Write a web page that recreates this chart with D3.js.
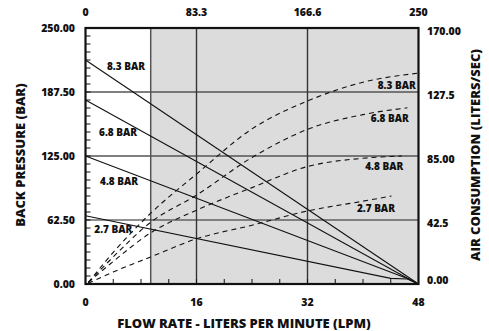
<!DOCTYPE html>
<html><head><meta charset="utf-8">
<script src="https://cdn.jsdelivr.net/npm/d3@7"></script>
<style>
html,body{margin:0;padding:0;background:#fff;}
svg{display:block;}
text{font-family:"Open Sans","Noto Sans",sans-serif;font-weight:800;fill:#111;}
</style></head>
<body><svg id="c" width="489" height="331"></svg>
<script>
// ---- data ----
const flowTicks = [0, 16, 32, 48];                 // LPM (bottom axis)
const topTickLabels = ["0", "83.3", "166.6", "250"]; // top axis labels
const pressureTicks = [0, 62.5, 125, 187.5, 250];   // left axis
const pressureTickLabels = ["0.00", "62.50", "125.00", "187.50", "250.00"];
const consumptionTicks = [0, 42.5, 85, 127.5, 170]; // right axis
const consumptionTickLabels = ["0.00", "42.5", "85.00", "127.5", "170.00"];
const seriesNames = ["8.3 BAR", "6.8 BAR", "4.8 BAR", "2.7 BAR"];
const shadedFrom = 9.4; // LPM where shaded region starts

// back pressure lines: [flow LPM, pressure BAR]
const pressure83 = [[0, 218.75], [48, 0]];
const pressure68 = [[0, 179.7], [47.7, 0.8]];
const pressure48 = [[0, 125], [46.3, 5.6], [47.7, 1]];
const pressure27 = [[0, 66.7], [44, 5.5], [46.4, 4.9], [47.7, 1]];

// air consumption curves: [flow LPM, consumption L/s]
const consumption83 = [[0.4, 1], [4, 21], [9.4, 47], [16, 73], [24, 103], [32, 121.5], [40, 134], [48, 140]];
const consumption68 = [[0.4, 1], [4, 18], [9.4, 41], [16, 59], [24, 84], [32, 102.7], [40, 112.5], [46.4, 117]];
const consumption48 = [[0.4, 1], [4, 15], [9.4, 34], [16, 49], [24, 64], [32, 78], [40, 83.5], [45.6, 85]];
const consumption27 = [[0.4, 0.5], [4, 8], [9.4, 18], [16, 30], [24, 39], [32, 48.5], [40, 55], [44.1, 58.4]];

// label anchors (data units)
const leftLabelAt = [[3.1, 212], [1.95, 148.4], [2.1, 99.9], [1.27, 53.7]];   // flow, pressure
const rightLabelAt = [[47.6, 132.1], [46.6, 109.6], [45.8, 77.7], [44.6, 50.3]]; // flow, consumption

const pressureSeries = [pressure83, pressure68, pressure48, pressure27];
const consumptionSeries = [consumption83, consumption68, consumption48, consumption27];

// ---- layout ----
const svg = d3.select("#c");
const L = 85.5, R = 418.5, T = 28, B = 284;
const x = d3.scaleLinear().domain([0, 48]).range([L, R]);
const yP = d3.scaleLinear().domain([0, 250]).range([B, T]);
const yC = d3.scaleLinear().domain([0, 170]).range([B, T]);

// shaded region
svg.append("rect").attr("x", x(shadedFrom)).attr("y", T).attr("width", x(48) - x(shadedFrom)).attr("height", B - T)
  .attr("fill", "#dcdcdc");
svg.append("line").attr("x1", x(shadedFrom)).attr("x2", x(shadedFrom)).attr("y1", T).attr("y2", B)
  .attr("stroke", "#555").attr("stroke-width", 1.5);

// grid
svg.append("g").selectAll("line").data(pressureTicks.slice(1, -1)).join("line")
  .attr("x1", L).attr("x2", R).attr("y1", d => yP(d)).attr("y2", d => yP(d))
  .attr("stroke", (d, i) => i === 0 ? "#222" : "#555").attr("stroke-width", (d, i) => i === 0 ? 1.2 : 1.6);
svg.append("g").selectAll("line").data(flowTicks.slice(1, -1)).join("line")
  .attr("x1", d => x(d)).attr("x2", d => x(d)).attr("y1", T).attr("y2", B)
  .attr("stroke", "#333").attr("stroke-width", 1.4);

// minor ticks
const leftMinor = d3.range(0, 250.01, 250 / 32);
svg.append("g").selectAll("line").data(leftMinor).join("line")
  .attr("x1", L).attr("x2", L + 5).attr("y1", d => yP(d)).attr("y2", d => yP(d))
  .attr("stroke", "#111").attr("stroke-width", 1);
const bottomMinor = d3.range(0, 48.01, 4);
svg.append("g").selectAll("line").data(bottomMinor).join("line")
  .attr("x1", d => x(d)).attr("x2", d => x(d)).attr("y1", B).attr("y2", B - 5)
  .attr("stroke", "#111").attr("stroke-width", 1);

// pressure lines
const lineP = d3.line().x(d => x(d[0])).y(d => yP(d[1]));
svg.append("g").selectAll("path").data(pressureSeries).join("path")
  .attr("d", lineP).attr("fill", "none").attr("stroke", "#111").attr("stroke-width", 1.1);

// consumption curves
const lineC = d3.line().x(d => x(d[0])).y(d => yC(d[1])).curve(d3.curveMonotoneX);
svg.append("g").selectAll("path").data(consumptionSeries).join("path")
  .attr("d", lineC).attr("fill", "none").attr("stroke", "#111").attr("stroke-width", 1.1)
  .attr("stroke-dasharray", "5,4");

// frame
svg.append("rect").attr("x", L).attr("y", T).attr("width", R - L).attr("height", B - T)
  .attr("fill", "none").attr("stroke", "#111").attr("stroke-width", 2.2);

// series labels
svg.append("g").selectAll("text").data(seriesNames).join("text")
  .attr("x", (d, i) => x(leftLabelAt[i][0])).attr("y", (d, i) => yP(leftLabelAt[i][1]))
  .attr("dy", "0.35em").attr("font-size", 10).text(d => d);
svg.append("g").selectAll("text").data(seriesNames).join("text")
  .attr("x", (d, i) => x(rightLabelAt[i][0])).attr("y", (d, i) => yC(rightLabelAt[i][1]))
  .attr("dy", "0.35em").attr("text-anchor", "end").attr("font-size", 10).text(d => d);

// axes labels
const fs = 10.5;
svg.append("g").selectAll("text").data(pressureTicks).join("text")
  .attr("x", 75).attr("y", d => yP(d)).attr("dy", "0.35em").attr("text-anchor", "end")
  .attr("font-size", fs).text((d, i) => pressureTickLabels[i]);
svg.append("g").selectAll("text").data(consumptionTicks).join("text")
  .attr("x", 427).attr("y", (d, i) => yC(d) + (i === 0 ? -4 : 3)).attr("dy", "0.35em")
  .attr("font-size", fs).text((d, i) => consumptionTickLabels[i]);
svg.append("g").selectAll("text").data(flowTicks).join("text")
  .attr("x", d => x(d)).attr("y", 302).attr("dy", "0.35em").attr("text-anchor", "middle")
  .attr("font-size", fs).text(d => d);
svg.append("g").selectAll("text").data(flowTicks).join("text")
  .attr("x", d => x(d)).attr("y", 12).attr("dy", "0.35em").attr("text-anchor", "middle")
  .attr("font-size", fs).text((d, i) => topTickLabels[i]);

// titles
svg.append("text").attr("x", 244).attr("y", 323).attr("dy", "0.35em").attr("text-anchor", "middle")
  .attr("font-size", 13).text("FLOW RATE - LITERS PER MINUTE (LPM)");
svg.append("text").attr("transform", "translate(20,155) rotate(-90)").attr("dy", "0.35em")
  .attr("text-anchor", "middle").attr("font-size", 13).text("BACK PRESSURE  (BAR)");
svg.append("text").attr("transform", "translate(475,155) rotate(-90)").attr("dy", "0.35em")
  .attr("text-anchor", "middle").attr("font-size", 13).text("AIR CONSUMPTION (LITERS/SEC)");
</script></body></html>
